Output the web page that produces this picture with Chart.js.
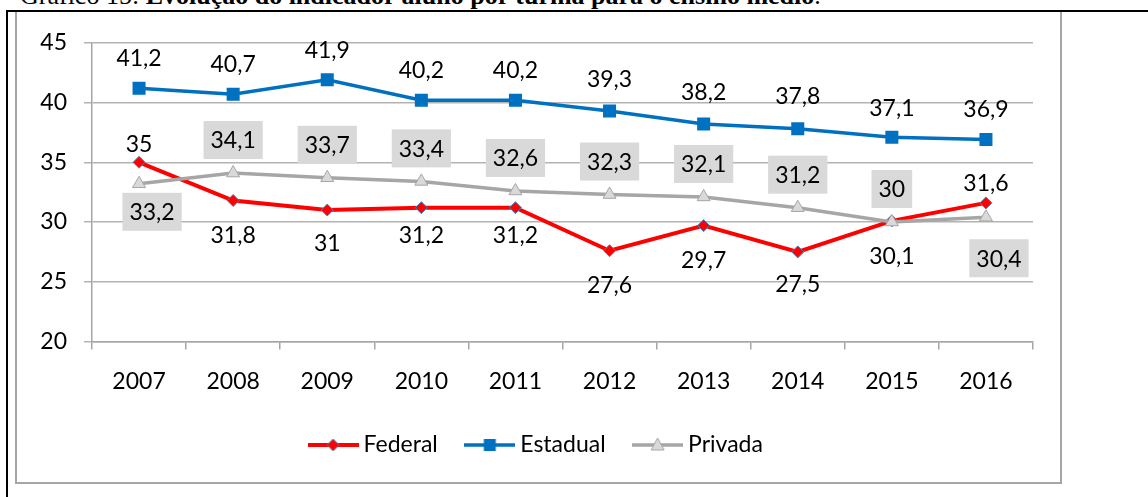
<!DOCTYPE html>
<html>
<head>
<meta charset="utf-8">
<script src="https://cdn.jsdelivr.net/npm/chart.js"></script>
<style>
  body { margin: 0; width: 1148px; height: 497px; overflow: hidden; background: #fff; position: relative; }
  #title { position: absolute; left: 20px; top: -17px; font-family: "Liberation Serif", serif; font-size: 26px; line-height: 26px; white-space: nowrap; color: #000; }
  #box { position: absolute; left: 15px; top: 10px; width: 1043px; height: 470px; border: 2px solid #A6A6A6; }
  #lineTop { position: absolute; left: 6px; top: 10px; width: 1142px; height: 2px; background: #000; }
  #lineLeft { position: absolute; left: 6px; top: 10px; width: 2px; height: 487px; background: #000; }
  canvas { display: block; }
</style>
</head>
<body>
<div id="title">Gráfico 15: <b>Evolução do indicador aluno por turma para o ensino médio</b>.</div>
<div id="box"><canvas id="chart" width="1043" height="470"></canvas></div>
<div id="lineTop"></div>
<div id="lineLeft"></div>
<script>
const years = ['2007', '2008', '2009', '2010', '2011', '2012', '2013', '2014', '2015', '2016'];
const federal = [35, 31.8, 31, 31.2, 31.2, 27.6, 29.7, 27.5, 30.1, 31.6];
const estadual = [41.2, 40.7, 41.9, 40.2, 40.2, 39.3, 38.2, 37.8, 37.1, 36.9];
const privada = [33.2, 34.1, 33.7, 33.4, 32.6, 32.3, 32.1, 31.2, 30, 30.4];
const yTicks = [20, 25, 30, 35, 40, 45];

// where each value label sits, in px from its point
const labelDy = [
  [-19, 34, 33, 27, 27, 34, 34, 32, 35, -20],
  [-31, -31, -30, -31, -31, -32, -32, -33, -30, -31],
  [28, -33, -33, -33, -33, -33, -33, -33, -33, 41]
];
const labelDx = [
  [0, 0, 0, 0, 0, 0, 0, 0, 0, 0],
  [0, 0, 0, 0, 0, 0, 0, 0, 0, 0],
  [13, 0, 0, 0, 0, 0, 0, 0, 0, 13]
];
const labelBox = [null, null, '#D9D9D9'];

Chart.defaults.font.family = 'Lato';
Chart.defaults.font.size = 23;
Chart.defaults.color = '#000';

function legendIcon(draw) {
  const c = document.createElement('canvas');
  c.width = 51;
  c.height = 18;
  const g = c.getContext('2d');
  draw(g);
  return c;
}

const icons = [
  legendIcon(g => {
    g.strokeStyle = '#FF0000'; g.lineWidth = 4;
    g.beginPath(); g.moveTo(0, 9); g.lineTo(51, 9); g.stroke();
    g.beginPath(); g.moveTo(25.5, 3); g.lineTo(31.5, 9); g.lineTo(25.5, 15); g.lineTo(19.5, 9); g.closePath();
    g.fillStyle = '#FF0000'; g.fill();
    g.strokeStyle = '#4F81BD'; g.lineWidth = 1; g.stroke();
  }),
  legendIcon(g => {
    g.strokeStyle = '#0070C0'; g.lineWidth = 3.5;
    g.beginPath(); g.moveTo(0, 9); g.lineTo(51, 9); g.stroke();
    g.fillStyle = '#0070C0'; g.fillRect(19.5, 3, 12, 12);
  }),
  legendIcon(g => {
    g.strokeStyle = '#A6A6A6'; g.lineWidth = 3.5;
    g.beginPath(); g.moveTo(0, 9); g.lineTo(51, 9); g.stroke();
    g.beginPath(); g.moveTo(25.5, 2); g.lineTo(32, 14); g.lineTo(19, 14); g.closePath();
    g.fillStyle = '#D9D9D9'; g.fill();
    g.strokeStyle = '#A6A6A6'; g.lineWidth = 1; g.stroke();
  })
];

const pointLabels = {
  id: 'pointLabels',
  afterDatasetsDraw(chart) {
    const ctx = chart.ctx;
    ctx.save();
    ctx.font = '23px Lato';
    ctx.textAlign = 'center';
    ctx.textBaseline = 'middle';
    chart.data.datasets.forEach((ds, i) => {
      chart.getDatasetMeta(i).data.forEach((pt, j) => {
        const text = String(ds.data[j]).replace('.', ',');
        const x = pt.x + labelDx[i][j];
        const y = pt.y + labelDy[i][j];
        if (labelBox[i]) {
          const w = ctx.measureText(text).width + 14;
          ctx.fillStyle = labelBox[i];
          ctx.fillRect(x - w / 2, y - 19, w, 38);
        }
        ctx.fillStyle = '#000';
        ctx.fillText(text, x, y + 1);
      });
    });
    ctx.restore();
  }
};

new Chart(document.getElementById('chart'), {
  type: 'line',
  data: {
    labels: years,
    datasets: [
      {
        label: 'Federal', data: federal, order: 3,
        borderColor: '#FF0000', borderWidth: 4,
        pointStyle: 'rectRot', pointRadius: 6,
        pointBackgroundColor: '#FF0000', pointBorderColor: '#4F81BD', pointBorderWidth: 1
      },
      {
        label: 'Estadual', data: estadual, order: 2,
        borderColor: '#0070C0', borderWidth: 3.5,
        pointStyle: 'rect', pointRadius: 9.2,
        pointBackgroundColor: '#0070C0', pointBorderColor: '#0070C0', pointBorderWidth: 0
      },
      {
        label: 'Privada', data: privada, order: 1,
        borderColor: '#A6A6A6', borderWidth: 3.5,
        pointStyle: 'triangle', pointRadius: 7.5,
        pointBackgroundColor: '#D9D9D9', pointBorderColor: '#A6A6A6', pointBorderWidth: 1
      }
    ]
  },
  options: {
    responsive: false,
    animation: false,
    layout: { padding: { top: 27.5, right: 0, bottom: 15.5, left: 0 } },
    scales: {
      x: {
        offset: true,
        grid: { drawOnChartArea: false, tickLength: 8, color: '#A6A6A6', lineWidth: 1.5, offset: true },
        border: { color: '#A6A6A6', width: 1.5 },
        ticks: { padding: 18 },
        afterFit(s) { s.height = 59; }
      },
      y: {
        min: yTicks[0],
        max: yTicks[yTicks.length - 1],
        grid: { color: '#B3B3B3', lineWidth: 1.5, tickLength: 8 },
        border: { color: '#A6A6A6', width: 1.5 },
        ticks: { stepSize: yTicks[1] - yTicks[0], padding: 17 },
        afterFit(s) { s.width = 75; }
      },
      // empty axis that only keeps the plot off the right edge
      yRight: {
        position: 'right',
        grid: { display: false },
        border: { display: false },
        ticks: { display: false },
        afterFit(s) { s.width = 27; }
      }
    },
    plugins: {
      legend: {
        position: 'bottom',
        labels: {
          usePointStyle: true,
          pointStyleWidth: 38,
          padding: 33,
          sort: (a, b) => a.datasetIndex - b.datasetIndex,
          generateLabels(chart) {
            const items = Chart.defaults.plugins.legend.labels.generateLabels(chart);
            items.forEach(it => { it.pointStyle = icons[it.datasetIndex]; });
            return items;
          }
        }
      },
      tooltip: { enabled: false }
    }
  },
  plugins: [pointLabels]
});
</script>
</body>
</html>
